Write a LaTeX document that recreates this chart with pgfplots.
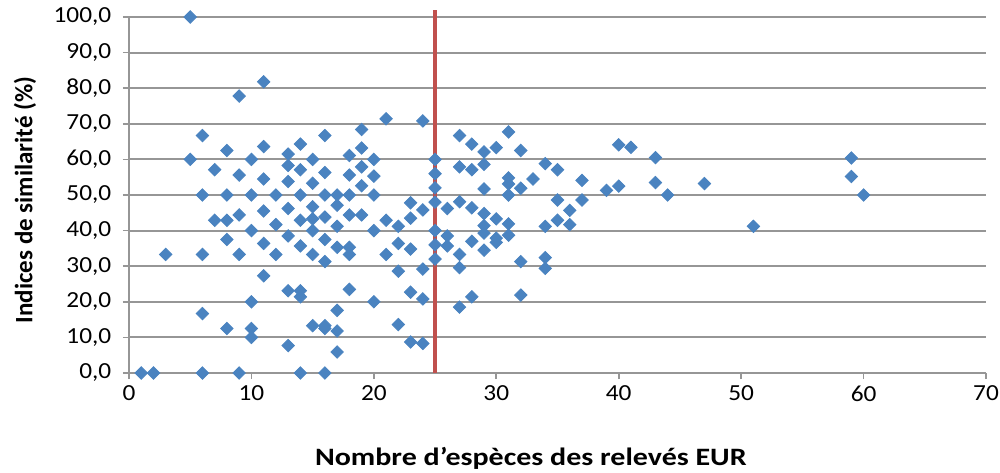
\documentclass[border=0pt]{standalone}
\usepackage{pgfplots}
\pgfplotsset{compat=1.18}
\usepackage{fontspec}
\setmainfont{Carlito}
\definecolor{ptblue}{RGB}{74,131,192}
\definecolor{lnred}{RGB}{192,80,77}
\definecolor{grd}{RGB}{150,150,150}
\begin{document}
\begin{tikzpicture}
\begin{axis}[
  name=ax,
  scale only axis,
  width=428.5pt, height=178pt,
  xmin=0, xmax=70, ymin=0, ymax=100,
  xtick={0,10,...,70},
  ytick={0,10,...,100},
  axis x line*=bottom, axis y line*=left,
  axis line style={grd, line width=1pt},
  ymajorgrids,
  grid style={grd, line width=1pt},
  tick style={grd, line width=0.8pt},
  tick align=outside,
  major tick length=3pt,
  clip=false,
  font=\fontsize{11.5pt}{13pt}\selectfont,
  /pgf/number format/assume math mode=true,
  yticklabel={\pgfmathprintnumber[fixed,fixed zerofill,precision=1,use comma]{\tick}},
  xticklabel={\pgfmathprintnumber[fixed,precision=0]{\tick}},
  yticklabel style={xshift=-2pt, xscale=1.1},
  xticklabel style={yshift=0pt, xscale=1.1},
  xlabel={\textbf{Nombre d'espèces des relevés EUR}},
  ylabel={\textbf{Indices de similarité (\%)}},
  xlabel style={at={(axis description cs:0.469,-0.24)}, anchor=center, xscale=1.2, font=\fontsize{12.5pt}{14pt}\selectfont},
  ylabel style={at={(axis description cs:-0.1214,0.486)}, anchor=center, font=\fontsize{12.5pt}{14pt}\selectfont},
]
\addplot[only marks, mark=square*, mark size=2.2pt, color=ptblue,
  mark options={rotate=45, fill=ptblue, draw=ptblue}] coordinates {
(1,0) (2,0) (3,33.3)
(5,100) (5,60)
(6,66.7) (6,50) (6,33.3) (6,16.7) (6,0)
(7,57.1) (7,42.9)
(8,62.5) (8,50) (8,42.9) (8,37.5) (8,12.5)
(9,77.8) (9,55.6) (9,44.4) (9,33.3) (9,0)
(10,60) (10,50) (10,40) (10,20) (10,12.5) (10,10)
(11,81.8) (11,63.6) (11,54.5) (11,45.5) (11,36.4) (11,27.3)
(12,50) (12,41.7) (12,33.3)
(13,61.5) (13,58.3) (13,53.8) (13,46.2) (13,38.5) (13,23.1) (13,7.7)
(14,64.3) (14,57.1) (14,50) (14,42.9) (14,35.7) (14,23.1) (14,21.4) (14,0)
(15,60) (15,53.3) (15,46.7) (15,43.3) (15,40) (15,33.3) (15,13.3)
(16,66.7) (16,56.3) (16,50) (16,43.8) (16,37.5) (16,31.3) (16,13.3) (16,12.5) (16,0)
(17,50) (17,47.1) (17,41.2) (17,35.3) (17,17.6) (17,11.8) (17,5.9)
(18,61.1) (18,55.6) (18,50) (18,44.4) (18,35.3) (18,33.3) (18,23.5)
(19,68.4) (19,63.2) (19,57.9) (19,52.6) (19,44.4)
(20,60) (20,55.3) (20,50) (20,40) (20,20)
(21,71.4) (21,42.9) (21,33.3)
(22,41.2) (22,36.4) (22,28.6) (22,13.6)
(23,47.8) (23,43.5) (23,34.8) (23,22.7) (23,8.7)
(24,70.8) (24,45.8) (24,29.2) (24,20.8) (24,8.3)
(25,60) (25,56) (25,52) (25,48) (25,40) (25,36) (25,32)
(26,46.2) (26,38.5) (26,35.7)
(27,66.7) (27,57.9) (27,48.1) (27,33.3) (27,29.6) (27,18.5)
(28,64.3) (28,57.1) (28,46.4) (28,37) (28,21.4)
(29,62.1) (29,58.6) (29,51.7) (29,44.8) (29,41.4) (29,39.3) (29,34.5)
(30,63.3) (30,43.3) (30,37.9) (30,36.7)
(31,67.7) (31,54.8) (31,53.1) (31,50) (31,41.9) (31,38.7)
(32,62.5) (32,51.9) (32,31.3) (32,21.9)
(33,54.5)
(34,58.8) (34,41.2) (34,32.4) (34,29.4)
(35,57.1) (35,48.6) (35,42.9)
(36,45.7) (36,41.7)
(37,54.1) (37,48.6)
(39,51.3)
(40,64.1) (40,52.5)
(41,63.4)
(43,60.5) (43,53.5)
(44,50)
(47,53.2)
(51,41.2)
(59,60.4) (59,55.2)
(60,50)
};
\addplot[lnred, line width=2pt] coordinates {(25,0) (25,102)};
\end{axis}
\pgfresetboundingbox
\useasboundingbox (ax.south west) ++(-64.5pt,-49.5pt) rectangle ([shift={(7pt,8.5pt)}]ax.north east);
\end{tikzpicture}
\end{document}
